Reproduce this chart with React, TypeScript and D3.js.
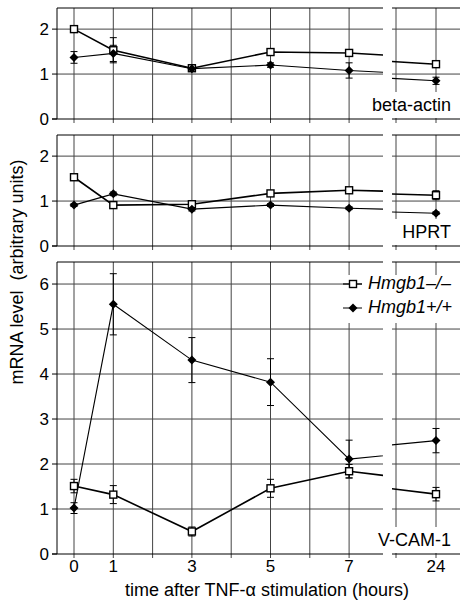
import React from "react";
import * as d3 from "d3";

// time points (hours) and tick labels
const hours = [0, 1, 3, 5, 7, 24];
const xTickLabels = [0, 1, 3, 5, 7];
const gridHours = [0, 1, 2, 3, 4, 5, 6, 7];
const rightGridHours = [23, 24];

// beta-actin
const betaKo = [2.0, 1.53, 1.13, 1.49, 1.47, 1.22];
const betaKoErr = [0.04, 0.28, 0.04, 0.05, 0.06, 0.05];
const betaWt = [1.37, 1.46, 1.12, 1.2, 1.08, 0.85];
const betaWtErr = [0.13, 0.18, 0.04, 0.05, 0.17, 0.08];

// HPRT
const hprtKo = [1.53, 0.91, 0.93, 1.17, 1.24, 1.13];
const hprtKoErr = [0.04, 0.04, 0.05, 0.05, 0.06, 0.1];
const hprtWt = [0.91, 1.16, 0.82, 0.91, 0.84, 0.73];
const hprtWtErr = [0.03, 0.04, 0.04, 0.03, 0.03, 0.03];

// V-CAM-1
const vcamKo = [1.51, 1.32, 0.5, 1.46, 1.84, 1.33];
const vcamKoErr = [0.15, 0.2, 0.1, 0.2, 0.15, 0.15];
const vcamWt = [1.02, 5.55, 4.31, 3.82, 2.11, 2.52];
const vcamWtErr = [0.12, 0.68, 0.5, 0.52, 0.42, 0.27];

const labels = ["beta-actin", "HPRT", "V-CAM-1"];
const legendLabels = ["Hmgb1\u2013/\u2013", "Hmgb1+/+"];

const FONT = "'Liberation Sans', Arial, Helvetica, sans-serif";

// layout
const panelLayout = [
  { top: 8, bottom: 119, max: 2.47 },
  { top: 135, bottom: 246, max: 2.47 },
  { top: 262, bottom: 554, max: 6.49 },
];
const L0 = 57;
const L1 = 383;
const R0 = 392;
const R1 = 460;
const unit = 39.3;

// broken time axis: 7 -> 24 compressed
const xv = d3.scaleLinear().domain([0, 7, 24]).range([74, 74 + 7 * unit, 74 + 11.8 * unit]);
const xRight = d3.scaleLinear().domain([23, 24]).range([396, 436]);
const shift = xv(24) - xRight(24);

const series = [
  { ko: betaKo, koErr: betaKoErr, wt: betaWt, wtErr: betaWtErr },
  { ko: hprtKo, koErr: hprtKoErr, wt: hprtWt, wtErr: hprtWtErr },
  { ko: vcamKo, koErr: vcamKoErr, wt: vcamWt, wtErr: vcamWtErr },
];

const gridColor = "#444";

function Square({ x, y }: { x: number; y: number }) {
  return <rect x={x - 3.5} y={y - 3.5} width={7} height={7} fill="#fff" stroke="#000" strokeWidth={1.4} />;
}

function Diamond({ x, y }: { x: number; y: number }) {
  const r = 4.5;
  return <path d={`M${x},${y - r}L${x + r},${y}L${x},${y + r}L${x - r},${y}Z`} fill="#000" />;
}

function DataMarks({ y, s }: { y: d3.ScaleLinear<number, number>; s: (typeof series)[number] }) {
  const line = d3
    .line<number>()
    .x((_, i) => xv(hours[i]))
    .y((d) => y(d));
  const errBar = (vals: number[], errs: number[], key: string) =>
    vals.map((v, i) => {
      const x = xv(hours[i]);
      const y1 = y(v + errs[i]);
      const y2 = y(v - errs[i]);
      return (
        <g key={key + i} stroke="#000" strokeWidth={1}>
          <line x1={x} x2={x} y1={y1} y2={y2} />
          <line x1={x - 3.5} x2={x + 3.5} y1={y1} y2={y1} />
          <line x1={x - 3.5} x2={x + 3.5} y1={y2} y2={y2} />
        </g>
      );
    });
  return (
    <g>
      <path d={line(s.wt) || ""} fill="none" stroke="#000" strokeWidth={1.1} />
      <path d={line(s.ko) || ""} fill="none" stroke="#000" strokeWidth={1.6} />
      {errBar(s.ko, s.koErr, "ke")}
      {errBar(s.wt, s.wtErr, "we")}
      {s.ko.map((v, i) => (
        <Square key={"k" + i} x={xv(hours[i])} y={y(v)} />
      ))}
      {s.wt.map((v, i) => (
        <Diamond key={"w" + i} x={xv(hours[i])} y={y(v)} />
      ))}
    </g>
  );
}

function Panel({ idx }: { idx: number }) {
  const { top, bottom, max } = panelLayout[idx];
  const y = d3.scaleLinear().domain([0, max]).range([bottom, top]);
  const yTicks = d3.range(0, Math.floor(max) + 1);
  const s = series[idx];
  const last = idx === panelLayout.length - 1;
  return (
    <g>
      <defs>
        <clipPath id={`cl${idx}`}>
          <rect x={L0} y={top - 20} width={L1 - L0} height={bottom - top + 40} />
        </clipPath>
        <clipPath id={`cr${idx}`}>
          <rect x={R0} y={top - 20} width={R1 - R0 + 20} height={bottom - top + 40} />
        </clipPath>
      </defs>
      {/* horizontal grid */}
      {yTicks.slice(1).map((t) => (
        <g key={"h" + t} stroke={gridColor} strokeWidth={1}>
          <line x1={L0} x2={L1} y1={y(t)} y2={y(t)} />
          <line x1={R0} x2={R1} y1={y(t)} y2={y(t)} />
        </g>
      ))}
      {/* vertical grid */}
      {gridHours.map((h) => (
        <line key={"v" + h} x1={xv(h)} x2={xv(h)} y1={top} y2={bottom + 4} stroke={gridColor} />
      ))}
      {rightGridHours.map((h) => (
        <line key={"vr" + h} x1={xRight(h)} x2={xRight(h)} y1={top} y2={bottom + 4} stroke={gridColor} />
      ))}
      {/* frame */}
      <g stroke="#000" strokeWidth={1}>
        <line x1={L0} x2={L1} y1={top} y2={top} />
        <line x1={R0} x2={R1} y1={top} y2={top} />
        <line x1={L0 - 5} x2={L1} y1={bottom} y2={bottom} />
        <line x1={R0} x2={R1} y1={bottom} y2={bottom} />
        <line x1={L0} x2={L0} y1={top} y2={bottom} />
        {yTicks.map((t) => (
          <line key={"yt" + t} x1={L0 - 5} x2={L0} y1={y(t)} y2={y(t)} />
        ))}
      </g>
      {yTicks.map((t) => (
        <text
          key={"yl" + t}
          x={L0 - 8}
          y={y(t)}
          dy="0.36em"
          textAnchor="end"
          fontFamily={FONT}
          fontSize={17}
        >
          {t}
        </text>
      ))}
      {/* data, left part */}
      <g clipPath={`url(#cl${idx})`}>
        <DataMarks y={y} s={s} />
      </g>
      {/* data, right part (24 h) */}
      <g clipPath={`url(#cr${idx})`}>
        <g transform={`translate(${-shift},0)`}>
          <DataMarks y={y} s={s} />
        </g>
      </g>
      {/* panel label */}
      <rect x={368} y={bottom - 27} width={R1 - 368} height={26} fill="#fff" />
      <text x={451} y={bottom - 8} textAnchor="end" fontFamily={FONT} fontSize={18}>
        {labels[idx]}
      </text>
      {last && (
        <g fontFamily={FONT} fontSize={17} textAnchor="middle">
          {xTickLabels.map((h) => (
            <text key={"xl" + h} x={xv(h)} y={bottom + 18}>
              {h}
            </text>
          ))}
          <text x={xRight(24)} y={bottom + 18}>
            24
          </text>
        </g>
      )}
    </g>
  );
}

function Legend() {
  const x0 = 343;
  const rows = [284, 308];
  return (
    <g>
      <rect x={x0} y={275} width={R1 - x0} height={48} fill="#fff" />
      {rows.map((ry, i) => (
        <g key={i}>
          <line x1={x0} x2={x0 + 19} y1={ry} y2={ry} stroke="#000" strokeWidth={i === 0 ? 1.5 : 1} />
          {i === 0 ? <Square x={x0 + 10} y={ry} /> : <Diamond x={x0 + 10} y={ry} />}
          <text x={x0 + 25} y={ry + 5} fontFamily={FONT} fontSize={18} fontStyle="italic">
            {legendLabels[i]}
          </text>
        </g>
      ))}
    </g>
  );
}

export default function App() {
  return (
    <svg
      width={460}
      height={602}
      style={{ position: "absolute", left: 0, top: 0, background: "#fff" }}
    >
      <rect width={460} height={602} fill="#fff" />
      {panelLayout.map((_, i) => (
        <Panel key={i} idx={i} />
      ))}
      <Legend />
      <text
        transform="translate(23,272) rotate(-90)"
        textAnchor="middle"
        fontFamily={FONT}
        fontSize={18}
        style={{ whiteSpace: "pre" }}
      >
        {"mRNA level  (arbitrary units)"}
      </text>
      <text x={267} y={596} textAnchor="middle" fontFamily={FONT} fontSize={18}>
        time after TNF-α stimulation (hours)
      </text>
    </svg>
  );
}
